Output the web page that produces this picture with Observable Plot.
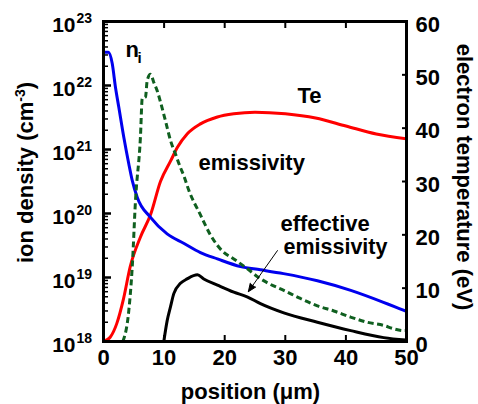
<!DOCTYPE html>
<html><head><meta charset="utf-8">
<script src="https://cdn.jsdelivr.net/npm/d3@7"></script>
<script src="https://cdn.jsdelivr.net/npm/@observablehq/plot@0.6"></script>
<style>body{margin:0;background:#fff}</style>
</head><body><div id="chart"></div>
<script>
// ---- data ----
const niPos = [0, 0.8, 1.44, 1.98, 2.52, 3.35, 4.17, 4.74, 5.56, 7.76, 10.5, 13.3, 16.0, 18.8, 22.6, 25.9, 29.7, 35.3, 40.8, 46.2, 50];
const niVal = [3.3e22, 3.3e22, 2.2e22, 9.3e21, 4.6e21, 1.55e21, 6.0e20, 3.3e20, 1.8e20, 8.7e19, 4.8e19, 3.4e19, 2.45e19, 1.95e19, 1.48e19, 1.32e19, 1.15e19, 8.9e18, 6.3e18, 4.1e18, 2.95e18];

const emPos = [3.2, 4.17, 4.74, 5.28, 6.1, 6.39, 6.93, 7.21, 7.76, 8.3, 8.86, 9.41, 10.23, 11.06, 11.88, 12.7, 13.25, 14.08, 16.0, 17.66, 19.59, 21.5, 23.7, 25.6, 27.0, 29.75, 32.5, 35.3, 38.0, 40.8, 43.5, 46.25, 47.9, 49.55, 50];
const emVal = [1.0e18, 3.0e18, 1.45e19, 1.6e20, 1.6e21, 6.2e21, 6.6e21, 1.2e22, 1.5e22, 1.12e22, 8.3e21, 5.5e21, 2.8e21, 1.38e21, 8.5e20, 5.2e20, 3.9e20, 2.3e20, 9.5e19, 4.6e19, 2.6e19, 1.95e19, 1.38e19, 1.0e19, 8.3e18, 6.3e18, 4.7e18, 3.6e18, 3.0e18, 2.4e18, 2.0e18, 1.78e18, 1.58e18, 1.48e18, 1.48e18];

const effPos = [9.95, 10.5, 11.06, 11.6, 12.7, 13.8, 15.5, 16.55, 18.8, 21.5, 23.7, 25.9, 29.75, 35.3, 40.8, 46.25, 50];
const effVal = [1.0e18, 2.1e18, 3.5e18, 5.6e18, 8.1e18, 9.5e18, 1.1e19, 9.5e18, 7.6e18, 5.9e18, 5.0e18, 3.9e18, 2.8e18, 2.0e18, 1.48e18, 1.15e18, 1.05e18];

const tePos = [0, 1.1, 2.2, 3.3, 4.4, 6.1, 7.8, 9.4, 11.1, 12.2, 13.8, 16, 18.8, 21.5, 25, 30, 35, 40, 45, 50];
const teVal = [0, 0.8, 3.4, 8.0, 14.0, 19.6, 23.9, 30.0, 33.9, 36.4, 38.9, 40.8, 42.1, 42.7, 43.0, 42.7, 41.9, 40.4, 38.9, 38.0];

const xTicks = [0, 10, 20, 30, 40, 50];
const yExponents = [18, 19, 20, 21, 22, 23];
const teTicks = [0, 10, 20, 30, 40, 50, 60];

const labels = [
  {x: 32.0, y: 5.42e21, text: "Te", size: 22},
  {x: 15.68, y: 4.7e20, text: "emissivity", size: 22},
  {x: 29.2, y: 5.4e19, text: "effective", size: 22},
  {x: 29.7, y: 2.37e19, text: "emissivity", size: 21.5},
  {x: 3.63, y: 2.74e22, text: "n", size: 22},
  {x: 5.61, y: 2.21e22, text: "i", size: 15}
];
const arrowData = [{x1: 28.7, y1: 2.63e19, x2: 23.9, y2: 6.0e18}];

// ---- helpers ----
const teToY = T => 10 ** (18 + T * 5 / 60);
const rows = (xs, vs, f = v => v) => xs.map((x, i) => ({x, y: f(vs[i])}));
const ni = rows(niPos, niVal);
const em = rows(emPos, emVal);
const eff = rows(effPos, effVal);
const te = rows(tePos, teVal, teToY);
const majorY = yExponents.map(e => 10 ** e);
const minorY = [];
for (let e = 18; e < 23; e++) for (let m = 2; m <= 9; m++) minorY.push(m * 10 ** e);

const font = "'Liberation Sans', Arial, Helvetica, sans-serif";
const B = {fontWeight: "bold"};
const C = "monotone-x";

const chart = Plot.plot({
  width: 478, height: 404,
  marginLeft: 103, marginRight: 72, marginTop: 21, marginBottom: 63,
  style: {fontFamily: font, background: "white", color: "black", overflow: "visible"},
  x: {domain: [0, 50], axis: null},
  y: {type: "log", domain: [1e18, 1e23], axis: null},
  marks: [
    Plot.line(te, {x: "x", y: "y", stroke: "#ff0000", strokeWidth: 3, curve: C, clip: true}),
    Plot.line(ni, {x: "x", y: "y", stroke: "#0000ee", strokeWidth: 3, curve: C, clip: true}),
    Plot.line(em, {x: "x", y: "y", stroke: "#0f5f1f", strokeWidth: 3, strokeDasharray: "6,3.5", strokeLinecap: "butt", strokeLinejoin: "miter", curve: C, clip: true}),
    Plot.line(eff, {x: "x", y: "y", stroke: "black", strokeWidth: 3, curve: C, clip: true}),
    // ticks (inward)
    Plot.axisX({ticks: xTicks.slice(1, -1), tickSize: -6, strokeWidth: 2, fill: "none", label: null}),
    Plot.axisX({anchor: "top", ticks: xTicks.slice(1, -1), tickSize: -6, strokeWidth: 2, fill: "none", label: null}),
    Plot.axisY({ticks: majorY, tickSize: -8, strokeWidth: 2.5, fill: "none", label: null}),
    Plot.axisY({ticks: minorY, tickSize: -5, strokeWidth: 1.5, fill: "none", label: null}),
    Plot.axisY({anchor: "right", ticks: teTicks.slice(1, -1).map(teToY), tickSize: -5, strokeWidth: 2, fill: "none", label: null}),
    // tick labels
    Plot.axisX({ticks: xTicks, tickSize: 0, tickPadding: 16, lineAnchor: "middle", fontSize: 22, ...B, label: null}),
    Plot.text(teTicks, {y: teToY, frameAnchor: "right", text: d => String(d), textAnchor: "start", lineAnchor: "middle", dx: 9, dy: 3, fontSize: 22, ...B}),
    Plot.text(majorY, {y: d => d, frameAnchor: "left", text: () => "10", textAnchor: "end", lineAnchor: "middle", dx: -28, dy: 4, fontSize: 21, ...B}),
    Plot.text(majorY, {y: d => d, frameAnchor: "left", text: d => String(Math.round(Math.log10(d))), textAnchor: "start", lineAnchor: "middle", dx: -27, dy: -2.5, fontSize: 14, ...B}),
    Plot.frame({strokeWidth: 3}),
    // annotations
    Plot.text(labels, {x: "x", y: "y", text: "text", fontSize: d => d.size, textAnchor: "start", lineAnchor: "bottom", ...B}),
    Plot.arrow(arrowData, {x1: "x1", y1: "y1", x2: "x2", y2: "y2", stroke: "black", fill: "black", strokeWidth: 1, headLength: 13, headAngle: 45}),
    // axis titles
    Plot.text(["ion density (cm-3)"], {frameAnchor: "left", text: d => d, rotate: -90, textAnchor: "middle", lineAnchor: "middle", dx: -78, dy: -9, fontSize: 22, ...B}),
    Plot.text(["electron temperature (eV)"], {frameAnchor: "right", text: d => d, rotate: 90, textAnchor: "middle", lineAnchor: "middle", dx: 58, dy: -4.5, fontSize: 22, ...B}),
    Plot.text(["position (μm)"], {frameAnchor: "bottom", text: d => d, textAnchor: "middle", lineAnchor: "middle", dx: -4.5, dy: 50, fontSize: 22, ...B})
  ]
});

// superscript in the left axis title
d3.select(chart).selectAll("text").filter(function () { return this.textContent === "ion density (cm-3)"; })
  .each(function () {
    const t = d3.select(this);
    t.text(null);
    t.append("tspan").text("ion density (cm");
    t.append("tspan").attr("dy", -8).attr("font-size", 14).text("-3");
    t.append("tspan").attr("dy", 8).text(")");
  });

document.getElementById("chart").append(chart);
</script>
</body></html>
